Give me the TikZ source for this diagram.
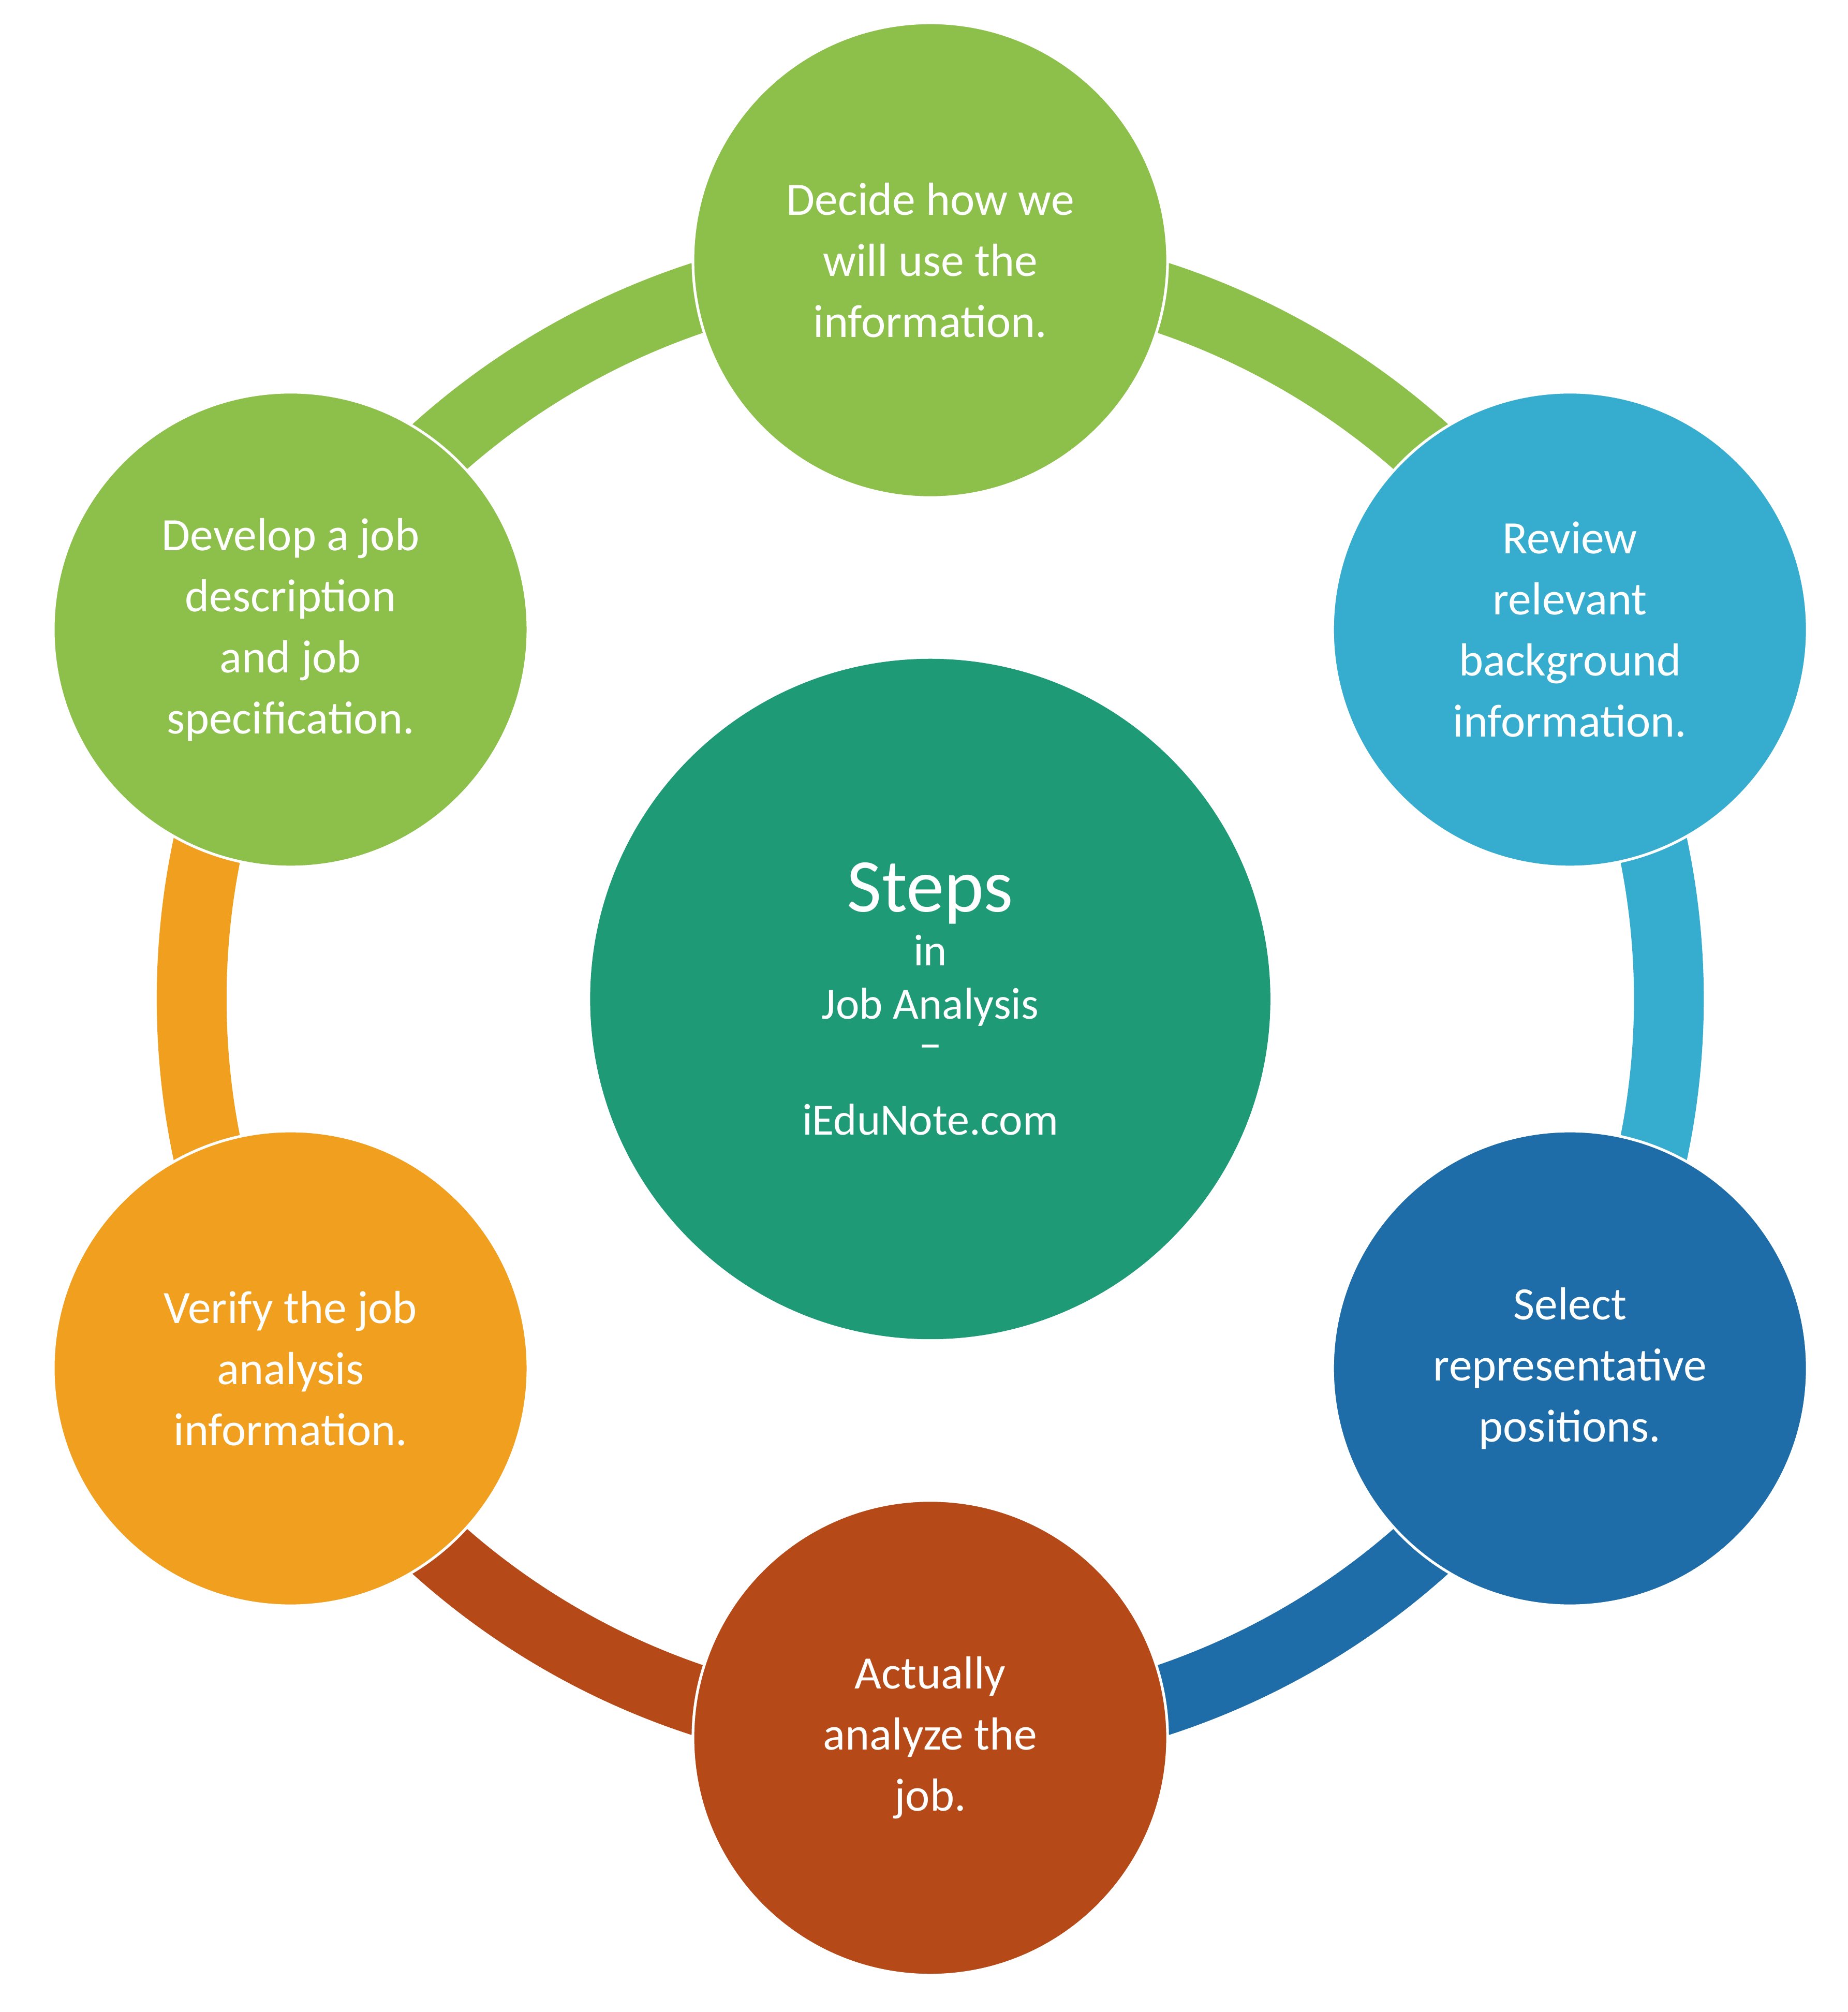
\documentclass[tikz,border=0pt]{standalone}
\usepackage{fontspec}
\setmainfont{Carlito}
\usetikzlibrary{positioning,calc}
\definecolor{stepgreen}{HTML}{8CC04A}
\definecolor{steplblue}{HTML}{36ADCF}
\definecolor{stepdblue}{HTML}{1E6DA8}
\definecolor{stepbrown}{HTML}{B54918}
\definecolor{steporange}{HTML}{F09F1E}
\definecolor{stepteal}{HTML}{1F9A77}
\tikzset{
  stepcircle/.style={circle,minimum size=3.74cm,inner sep=0pt,draw=white,line width=0.6pt,
    text=white,align=center,font=\fontsize{10.4}{13.7}\selectfont},
  ringarc/.style={line width=0.55cm}
}
\begin{document}
\begin{tikzpicture}
  \useasboundingbox (0,0) rectangle (14.56,15.85);
  \coordinate (c) at (7.33,7.98);
  % ring segments
  \foreach \a/\b/\col in {90/30/stepgreen,30/-30/steplblue,-30/-90/stepdblue,
                          -90/-150/stepbrown,-150/-210/steporange,-210/-270/stepgreen}
    \draw[ringarc,\col] ($(c)+(\a:5.82)$) arc (\a:\b:5.82);
  % centre
  \node[circle,minimum size=5.36cm,fill=stepteal,text=white,align=center] (centre) at (c)
    {\fontsize{17}{22}\selectfont Steps\\ in\\ Job Analysis\\[2pt]
     \fontsize{10.5}{13}\selectfont \raisebox{1ex}{--}\\ iEduNote.com};
  % steps
  \node[stepcircle,fill=stepgreen] (decide) at ($(c)+(90:5.82)$)
    {Decide how we\\ will use the\\ information.};
  \node[stepcircle,fill=steplblue] (review) at ($(c)+(30:5.82)$)
    {Review\\ relevant\\ background\\ information.};
  \node[stepcircle,fill=stepdblue] (select) at ($(c)+(-30:5.82)$)
    {Select\\ representative\\ positions.};
  \node[stepcircle,fill=stepbrown] (analyze) at ($(c)+(-90:5.82)$)
    {Actually\\ analyze the\\ job.};
  \node[stepcircle,fill=steporange] (verify) at ($(c)+(-150:5.82)$)
    {Verify the job\\ analysis\\ information.};
  \node[stepcircle,fill=stepgreen] (develop) at ($(c)+(150:5.82)$)
    {Develop a job\\ description\\ and job\\ specification.};
\end{tikzpicture}
\end{document}
